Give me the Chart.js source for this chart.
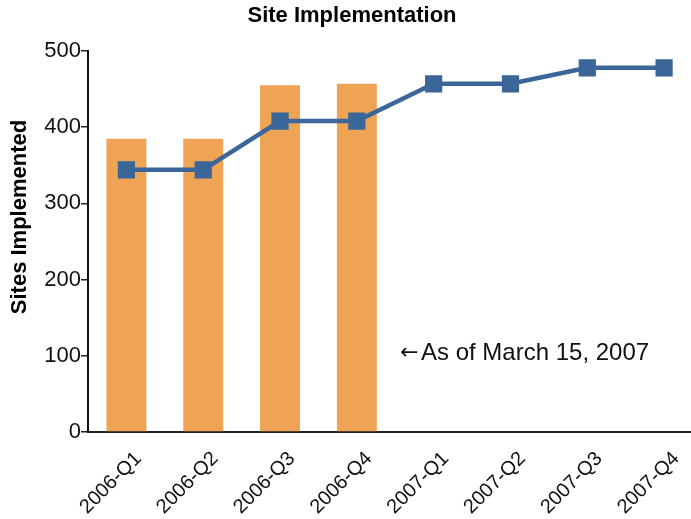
<!DOCTYPE html>
<html>
<head>
<meta charset="utf-8">
<script src="https://cdn.jsdelivr.net/npm/chart.js@4.4.0/dist/chart.umd.min.js"></script>
<style>
  html, body { margin: 0; padding: 0; background: #fff; overflow: hidden; }
  #wrap { width: 716px; height: 519px; }
</style>
</head>
<body>
<div id="wrap"><canvas id="chart" width="716" height="519"></canvas></div>
<script>
const quarters = ["2006-Q1", "2006-Q2", "2006-Q3", "2006-Q4", "2007-Q1", "2007-Q2", "2007-Q3", "2007-Q4"];
const implemented = [385, 385, 455, 457, null, null, null, null];
const planned = [344, 344, 408, 408, 457, 457, 478, 478];
const yTicks = [0, 100, 200, 300, 400, 500];

const titleText = "Site Implementation";
const yTitleText = "Sites Implemented";
const noteArrow = "\u2190";
const noteText = "As of March 15, 2007";

const FONT = "'Liberation Sans', Arial, sans-serif";

// title, y-axis title and the note are drawn straight onto the canvas
const extraText = {
  id: "extraText",
  afterDraw(chart) {
    const ctx = chart.ctx;
    ctx.save();
    ctx.fillStyle = "#000";
    ctx.textAlign = "center";
    ctx.textBaseline = "middle";
    ctx.font = "bold 22px " + FONT;
    ctx.fillText(titleText, 352, 16);

    ctx.translate(20, 217);
    ctx.rotate(-Math.PI / 2);
    ctx.font = "bold 22px " + FONT;
    ctx.fillText(yTitleText, 0, 0);
    ctx.restore();

    ctx.save();
    ctx.fillStyle = "#111";
    ctx.textAlign = "left";
    ctx.textBaseline = "middle";
    ctx.font = "22px 'DejaVu Sans', sans-serif";
    ctx.fillText(noteArrow, 400, 353);
    ctx.font = "24px " + FONT;
    ctx.fillText(noteText, 421, 353);
    ctx.restore();
  }
};

new Chart(document.getElementById("chart"), {
  data: {
    labels: quarters,
    datasets: [
      {
        type: "line",
        data: planned,
        borderColor: "#3a6699",
        backgroundColor: "#3a6699",
        borderWidth: 4.5,
        pointStyle: "rect",
        pointRadius: 9,
        pointHoverRadius: 9,
        tension: 0,
        order: 0
      },
      {
        type: "bar",
        data: implemented,
        backgroundColor: "#eea355",
        categoryPercentage: 1,
        barPercentage: 0.52,
        order: 1
      }
    ]
  },
  options: {
    responsive: false,
    animation: false,
    layout: { padding: { top: 51, left: 0, right: 0, bottom: 0 } },
    plugins: { legend: { display: false }, title: { display: false }, tooltip: { enabled: false } },
    scales: {
      x: {
        grid: { display: false },
        border: { display: true, color: "#222", width: 2 },
        ticks: {
          color: "#111",
          font: { family: FONT, size: 20 },
          maxRotation: 45,
          minRotation: 45,
          autoSkip: false,
          padding: 7,
          labelOffset: 12
        },
        afterFit(scale) { scale.height = 87; }
      },
      y: {
        min: 0,
        max: 500,
        afterBuildTicks(scale) { scale.ticks = yTicks.map(v => ({ value: v })); },
        grid: { drawOnChartArea: false, drawTicks: true, tickLength: 7, color: "#222", lineWidth: 1.5 },
        border: { display: true, color: "#111", width: 2 },
        ticks: {
          color: "#111",
          font: { family: FONT, size: 22 },
          padding: 0
        },
        afterFit(scale) { scale.width = 88; }
      }
    }
  },
  plugins: [extraText]
});
</script>
</body>
</html>
